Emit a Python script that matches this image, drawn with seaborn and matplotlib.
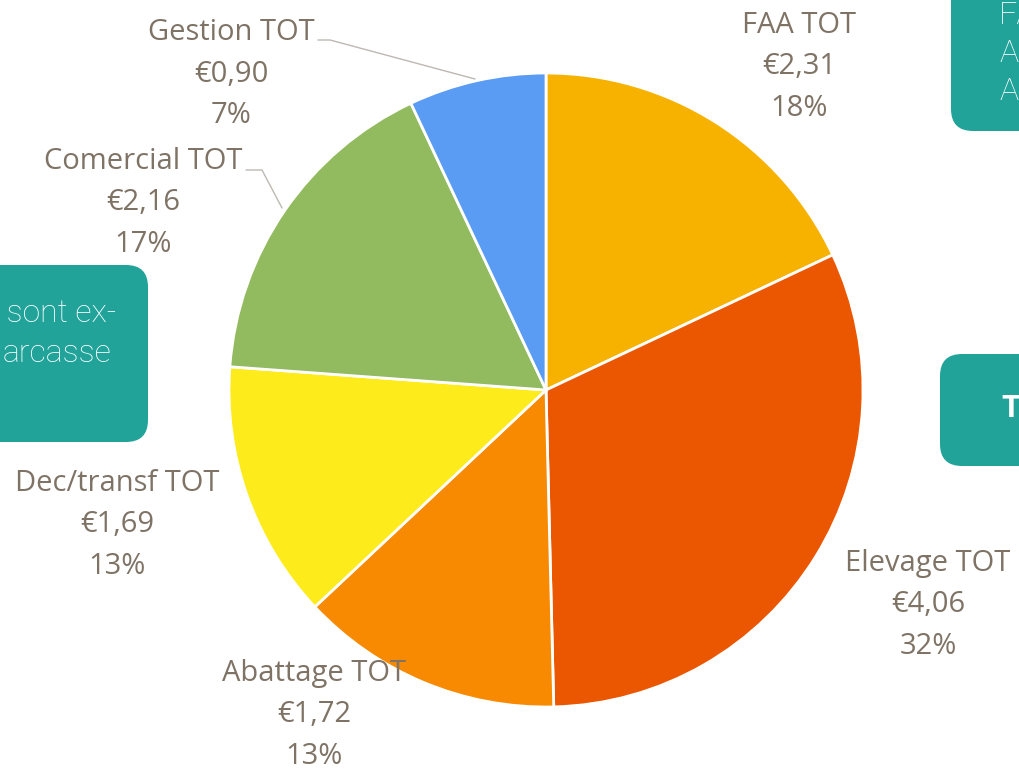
import matplotlib.pyplot as plt
import seaborn as sns
from matplotlib.patches import FancyBboxPatch

sns.set_theme(style="white")
plt.rcParams['font.family'] = ['Open Sans', 'DejaVu Sans']

categories = ['FAA TOT', 'Elevage TOT', 'Abattage TOT', 'Dec/transf TOT', 'Comercial TOT', 'Gestion TOT']
values = [2.31, 4.06, 1.72, 1.69, 2.16, 0.90]
value_labels = ['€2,31', '€4,06', '€1,72', '€1,69', '€2,16', '€0,90']
pct_labels = ['18%', '32%', '13%', '13%', '17%', '7%']
colors = ['#F7B200', '#EB5600', '#F78A00', '#FDEB1C', '#92BA5E', '#5A9BF4']

W, H = 1019, 769
fig = plt.figure(figsize=(W / 100, H / 100), dpi=100)
ax = fig.add_axes([0, 0, 1, 1])

teal = '#21A39A'
# background slide boxes (cut off at the edges)
boxes = [(951, -60, 140, 191), (-80, 265, 228, 177), (940, 354, 140, 112)]
for x, y, w, h in boxes:
    ax.add_patch(FancyBboxPatch((x + 22, H - (y + h) + 22), w - 44, h - 44,
                                boxstyle='round,pad=22', fc=teal, ec='none', zorder=0))
box_text = dict(color='white', family=['Roboto', 'DejaVu Sans'], fontweight='light', fontsize=23)
for yy, s in [(15, 'FA'), (53, 'A'), (91, 'A')]:
    ax.text(999, H - yy, s, ha='left', va='center', **box_text)
ax.text(116, H - 313, ' sont ex-', ha='right', va='center', **box_text)
ax.text(111, H - 353, 'arcasse', ha='right', va='center', **box_text)
ax.text(1001, H - 408, 'T', ha='left', va='center', color='white',
        family=['Roboto', 'DejaVu Sans'], fontweight='bold', fontsize=22)

cx, cy, r = 546, H - 390, 317
ax.pie(values, colors=colors, startangle=90, counterclock=False,
       center=(cx, cy), radius=r, frame=True,
       wedgeprops=dict(edgecolor='white', linewidth=2))

label_pos = [(799, 67), (928, 605), (314, 715), (117, 525), (143, 203), (231, 74)]
for (lx, ly), c, v, p in zip(label_pos, categories, value_labels, pct_labels):
    ax.text(lx, H - ly, f'{c}\n{v}\n{p}', ha='center', va='center',
            color='#7F7366', fontsize=21, linespacing=1.58, zorder=5)

lead = '#BDB8B2'
ax.plot([318, 330, 475], [H - 40, H - 40, H - 79], color=lead, lw=1)
ax.plot([246, 262, 282], [H - 170, H - 170, H - 208], color=lead, lw=1)

ax.set_xlim(0, W)
ax.set_ylim(0, H)
ax.set_aspect('equal')
ax.axis('off')
fig.savefig('out.png', dpi=100)
